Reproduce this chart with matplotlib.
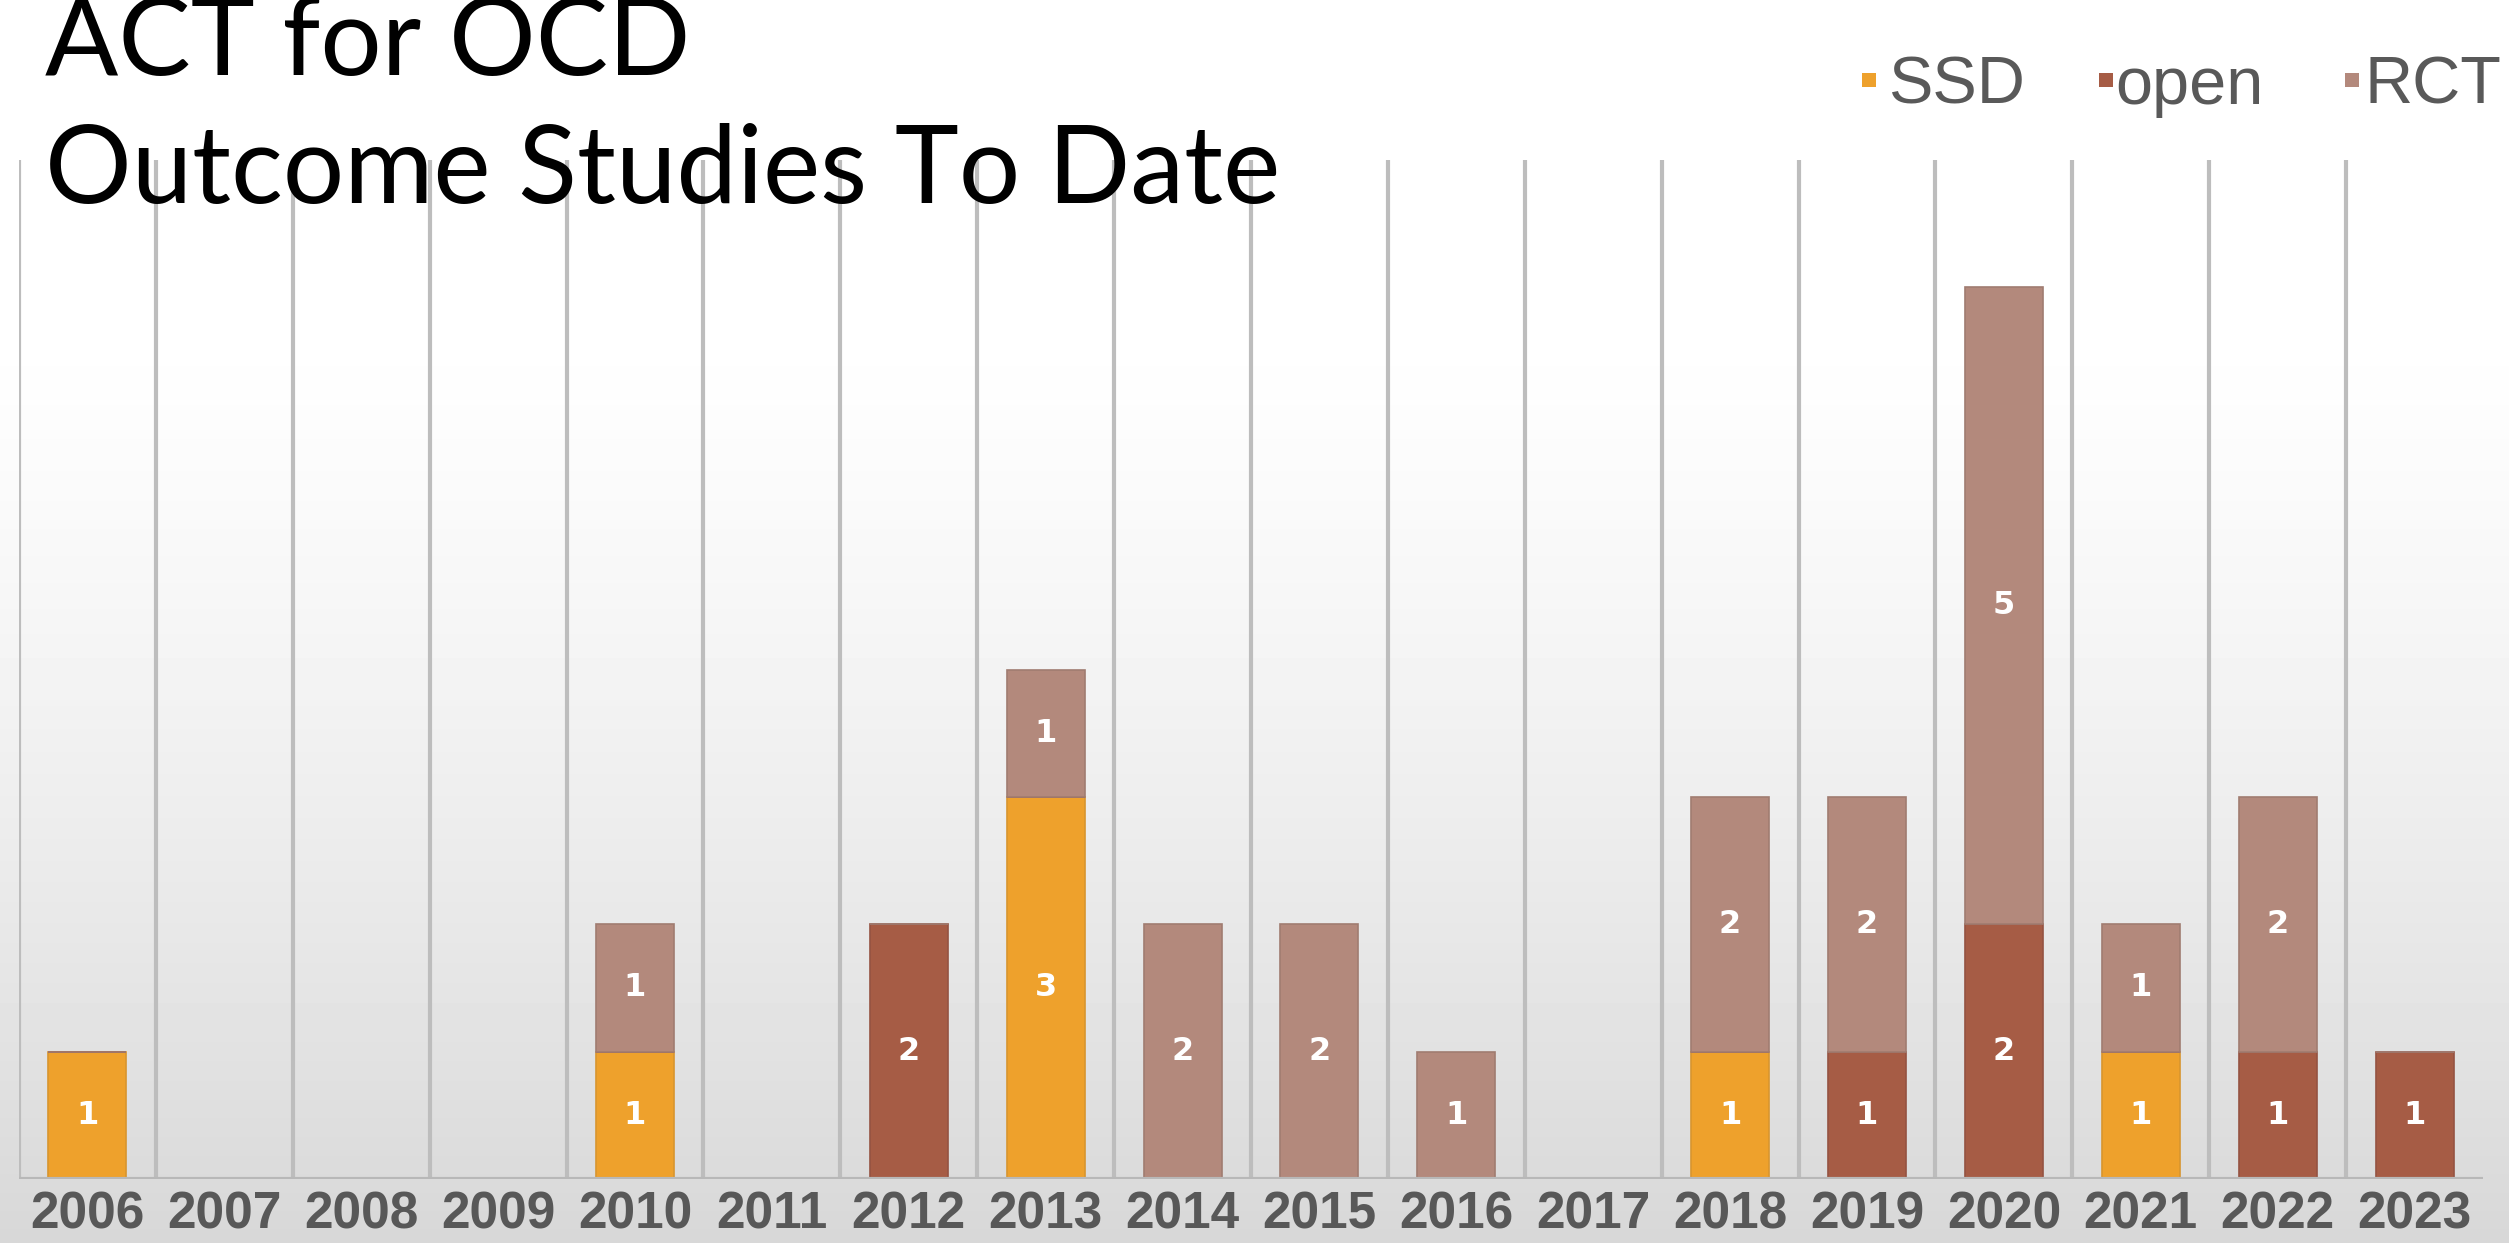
"""Stacked bar chart of ACT-for-OCD outcome studies per year, split by design."""
import numpy as np
import matplotlib
matplotlib.use("Agg")
import matplotlib.pyplot as plt
from matplotlib.patches import Rectangle

YEARS = [str(y) for y in range(2006, 2024)]
SSD = [1, 0, 0, 0, 1, 0, 0, 3, 0, 0, 0, 0, 1, 0, 0, 1, 0, 0]
OPEN = [0, 0, 0, 0, 0, 0, 2, 0, 0, 0, 0, 0, 0, 1, 2, 0, 1, 1]
RCT = [0, 0, 0, 0, 1, 0, 0, 1, 2, 2, 1, 0, 2, 2, 5, 1, 2, 0]

SERIES = ["SSD", "open", "RCT"]
COLORS = {"SSD": "#EEA12C", "open": "#A65C45", "RCT": "#B3897C"}
EDGE = {"SSD": "#D8952F", "open": "#955342", "RCT": "#A07C71"}

TITLE_FONT = ["Lato", "DejaVu Sans"]
NARROW_FONT = ["Liberation Sans Narrow", "Liberation Sans", "DejaVu Sans"]

W, H, DPI = 2509, 1243, 100


def background(fig):
    # soft white-to-grey vertical wash behind everything
    t = np.linspace(0, 1, 400)[:, None]
    ramp = np.clip((t - 0.25) / 0.75, 0, 1) ** 1.3
    grey = 1.0 - 0.155 * ramp
    img = np.repeat(grey, 2, axis=1)
    bg = fig.add_axes([0, 0, 1, 1], zorder=-10)
    bg.imshow(img, cmap="gray", vmin=0, vmax=1, aspect="auto",
              extent=[0, 1, 0, 1], origin="upper", interpolation="bilinear")
    bg.set_axis_off()


def legend(fig):
    sq = 14
    entries = [("SSD", 1869, 1888), ("open", 2106, 2115), ("RCT", 2352, 2365)]
    for name, sx, tx in entries:
        fig.add_artist(Rectangle(((sx - sq / 2) / W, 1 - (80 + sq / 2) / H),
                                 sq / W, sq / H, transform=fig.transFigure,
                                 facecolor=COLORS[name], edgecolor="none"))
        fig.text(tx / W, 1 - 104 / H, name, fontsize=48, color="#595959",
                 family=NARROW_FONT, ha="left", va="baseline")


def main():
    fig = plt.figure(figsize=(W / DPI, H / DPI), dpi=DPI)
    background(fig)

    ax = fig.add_axes([19 / W, 64 / H, (2483 - 19) / W, (1179 - 160) / H])
    ax.patch.set_alpha(0)
    x = np.arange(len(YEARS))

    # category separators
    ax.vlines(np.arange(-0.5, len(YEARS) - 1, 1), 0, 8, color="#bdbdbd",
              lw=3.0, zorder=1)
    ax.axhline(0, color="#b8b8b8", lw=3.0, zorder=4)

    bottom = np.zeros(len(YEARS))
    for name, vals in zip(SERIES, [SSD, OPEN, RCT]):
        vals = np.array(vals, dtype=float)
        ax.bar(x, vals, width=0.57, bottom=bottom, color=COLORS[name],
               edgecolor=EDGE[name], linewidth=1.2, zorder=3)
        for xi, b, v in zip(x, bottom, vals):
            if v > 0:
                ax.text(xi, b + v / 2, f"{int(v)}", ha="center", va="center",
                        color="white", fontsize=23, fontweight="bold", zorder=5)
        bottom += vals

    ax.set_xlim(-0.5, len(YEARS) - 0.5)
    ax.set_ylim(0, 8)
    ax.set_xticks(x)
    ax.set_xticklabels(YEARS, fontsize=37, fontweight="bold", color="#585858",
                       family=NARROW_FONT)
    ax.tick_params(axis="x", length=0, pad=8)
    ax.set_yticks([])
    for s in ax.spines.values():
        s.set_visible(False)

    fig.text(45 / W, 1 - 75 / H, "ACT for OCD", fontsize=78, family=TITLE_FONT,
             color="black", va="baseline", ha="left")
    fig.text(45 / W, 1 - 203 / H, "Outcome Studies To Date", fontsize=78,
             family=TITLE_FONT, color="black", va="baseline", ha="left")

    legend(fig)
    fig.savefig("out.png", dpi=DPI)
    plt.close(fig)


if __name__ == "__main__":
    main()
